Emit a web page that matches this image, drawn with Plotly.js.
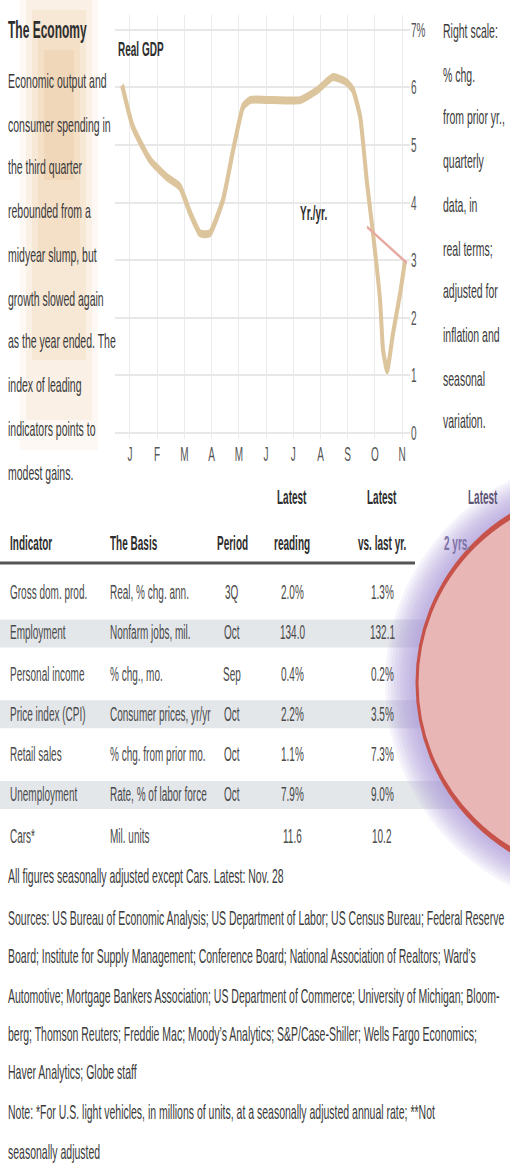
<!DOCTYPE html>
<html>
<head>
<meta charset="utf-8">
<script src="https://cdn.plot.ly/plotly-3.0.1.min.js"></script>
<style>
html,body{margin:0;padding:0;background:#fff;overflow:hidden;}
#wrap{width:510px;height:1167px;overflow:hidden;}
#chart{width:510px;height:584px;transform:scaleY(1.998288);transform-origin:0 0;}
</style>
</head>
<body>
<div id="wrap"><div id="chart"></div></div>
<script>
// ---------------- data ----------------
const xTickVals = [1, 2, 3, 4, 5, 6, 7, 8, 9, 10, 11];
const xTickLabels = ['J', 'F', 'M', 'A', 'M', 'J', 'J', 'A', 'S', 'O', 'N'];
const yTickVals = [0, 1, 2, 3, 4, 5, 6, 7];
const yTickLabels = ['0', '1', '2', '3', '4', '5', '6', '7%'];

const indexX = [0.71, 1.11, 1.74, 2.36, 2.84, 3.21, 3.57, 3.94, 4.42, 4.79, 5.15, 5.41, 6.26, 7.25, 7.88, 8.46, 8.98, 9.20, 9.46, 9.71, 9.93, 10.19, 10.30, 10.45, 10.67, 10.93, 11.11];
const indexY = [6.04, 5.31, 4.74, 4.44, 4.27, 3.82, 3.47, 3.47, 4.05, 4.91, 5.66, 5.78, 5.78, 5.78, 5.95, 6.18, 6.08, 5.95, 5.49, 4.34, 3.47, 2.31, 1.44, 1.09, 1.74, 2.43, 3.00];
const prevX = [9.71, 11.18];
const prevY = [3.58, 2.95];

const seriesLabels = ['Real GDP', 'Yr./yr.'];

const titleText = 'The Economy';
const introLines = ['Economic output and', 'consumer spending in', 'the third quarter', 'rebounded from a', 'midyear slump, but', 'growth slowed again', 'as the year ended. The', 'index of leading', 'indicators points to', 'modest gains.'];
const sideLines = ['Right scale:', '% chg.', 'from prior yr.,', 'quarterly', 'data, in', 'real terms;', 'adjusted for', 'inflation and', 'seasonal', 'variation.'];

const headTop = ['', '', '', 'Latest', 'Latest', 'Latest'];
const headBottom = ['Indicator', 'The Basis', 'Period', 'reading', 'vs. last yr.', '2 yrs.'];
const colIndicator = ['Gross dom. prod.', 'Employment', 'Personal income', 'Price index (CPI)', 'Retail sales', 'Unemployment', 'Cars*'];
const colBasis = ['Real, % chg. ann.', 'Nonfarm jobs, mil.', '% chg., mo.', 'Consumer prices, yr/yr', '% chg. from prior mo.', 'Rate, % of labor force', 'Mil. units'];
const colPeriod = ['3Q', 'Oct', 'Sep', 'Oct', 'Oct', 'Oct', ''];
const colLatest = ['2.0%', '134.0', '0.4%', '2.2%', '1.1%', '7.9%', '11.6'];
const colVsLastYr = ['1.3%', '132.1', '0.2%', '3.5%', '7.3%', '9.0%', '10.2'];

const noteLines = [
  'All figures seasonally adjusted except Cars. Latest: Nov. 28',
  'Sources: US Bureau of Economic Analysis; US Department of Labor; US Census Bureau; Federal Reserve',
  'Board; Institute for Supply Management; Conference Board; National Association of Realtors; Ward\u2019s',
  'Automotive; Mortgage Bankers Association; US Department of Commerce; University of Michigan; Bloom-',
  'berg; Thomson Reuters; Freddie Mac; Moody\u2019s Analytics; S&P/Case-Shiller; Wells Fargo Economics;',
  'Haver Analytics; Globe staff',
  'Note: *For U.S. light vehicles, in millions of units, at a seasonally adjusted annual rate; **Not',
  'seasonally adjusted'
];

// ---------------- layout helpers ----------------
const W = 510, HF = 1167, HL = 584;
const FONT = 'Liberation Sans, Arial, sans-serif';
function px(x) { return x / W; }
function py(y) { return 1 - y / HF; }

const annotations = [];
function addText(text, x, y, opt) {
  opt = opt || {};
  annotations.push({
    xref: 'paper', yref: 'paper', x: px(x), y: py(y), text: text, showarrow: false,
    xanchor: opt.anchor || 'left', yanchor: 'middle', align: opt.anchor || 'left',
    font: { family: FONT, size: opt.size || 10, color: opt.color || '#3a3a3a' }
  });
}

// left column
addText('<b>' + titleText + '</b>', 6, 30, { size: 12, color: '#2e2e2e' });
introLines.forEach((t, i) => addText(t, 6, 80 + 43.4 * i, { size: 10.5 }));
// right column
sideLines.forEach((t, i) => addText(t, 441, 30 + 43.4 * i, { size: 10.5 }));
// chart labels
addText('<b>' + seriesLabels[0] + '</b>', 116, 48, { color: '#2e2e2e' });
addText('<b>' + seriesLabels[1] + '</b>', 298, 213, { color: '#2e2e2e' });

// table
const colX = [8, 108, 232, 292, 382, 442];
const colAnchor = ['left', 'left', 'center', 'center', 'center', 'left'];
headTop.forEach((t, i) => { if (t) addText('<b>' + t + '</b>', i === 5 ? 466 : colX[i], 497, { anchor: colAnchor[i], color: i === 5 ? '#5d5575' : '#2e2e2e' }); });
headBottom.forEach((t, i) => addText('<b>' + t + '</b>', colX[i], 543, { anchor: colAnchor[i], color: i === 5 ? '#7d72a6' : '#2e2e2e' }));
const rowY = [593, 633.4, 673.8, 714.2, 754.6, 795, 835.4];
const cols = [colIndicator, colBasis, colPeriod, colLatest, colVsLastYr];
rowY.forEach((y, r) => {
  cols.forEach((col, c) => { if (col[r]) addText(col[r], colX[c], y, { anchor: colAnchor[c], color: '#4a4a4a' }); });
});

// notes
const noteY = [875, 917, 956, 995, 1034, 1072, 1111, 1152];
noteLines.forEach((t, i) => addText(t, 6, noteY[i], { size: 10.5 }));

// shapes
const shapes = [];
// soft orange band behind intro text
[[20, 98, 0, 450, 0.07], [26, 92, 0, 420, 0.09], [32, 86, 10, 360, 0.1], [38, 80, 30, 260, 0.12], [44, 74, 50, 180, 0.13]].forEach(b => {
  shapes.push({ type: 'rect', xref: 'paper', yref: 'paper', x0: px(b[0]), x1: px(b[1]), y0: py(b[2]), y1: py(b[3]),
    fillcolor: 'rgba(226,162,90,' + b[4] + ')', line: { width: 0 }, layer: 'below' });
});
// table row bands
[1, 3, 5].forEach(r => {
  shapes.push({ type: 'rect', xref: 'paper', yref: 'paper', x0: 0, x1: 1, y0: py(rowY[r] - 14), y1: py(rowY[r] + 14),
    fillcolor: '#e4e7ea', line: { width: 0 }, layer: 'below' });
});
// header rule
shapes.push({ type: 'line', xref: 'paper', yref: 'paper', x0: 0, x1: px(415), y0: py(563), y1: py(563),
  line: { color: '#555', width: 1.5 }, layer: 'below' });
// glow + highlight circle
const cx = 612, cy = 683, rx = 195, ry = 195;
[32, 29, 26, 23, 20, 17, 14, 11, 8, 5, 2].forEach(g => {
  shapes.push({ type: 'circle', xref: 'paper', yref: 'paper', x0: px(cx - rx - g), x1: px(cx + rx + g), y0: py(cy - ry - g), y1: py(cy + ry + g),
    fillcolor: 'rgba(170,148,215,0.1)', line: { width: 0 }, layer: 'above' });
});
shapes.push({ type: 'circle', xref: 'paper', yref: 'paper', x0: px(cx - rx), x1: px(cx + rx), y0: py(cy - ry), y1: py(cy + ry),
  fillcolor: '#e8b6b5', line: { color: '#c6524a', width: 3 }, layer: 'above' });

// ---------------- plot ----------------
const traces = [
  { type: 'scatter', mode: 'lines', x: indexX, y: indexY, line: { color: '#dcc59d', width: 4, shape: 'spline', smoothing: 0.5 }, hoverinfo: 'skip' },
  { type: 'scatter', mode: 'lines', x: prevX, y: prevY, line: { color: '#e7aaa2', width: 1.5 }, hoverinfo: 'skip' }
];

const plotTop = 15.4, plotBottom = 438.8;
const layout = {
  width: W, height: HL,
  margin: { l: 0, r: 0, t: 0, b: 0 },
  paper_bgcolor: '#ffffff', plot_bgcolor: 'rgba(0,0,0,0)',
  showlegend: false,
  xaxis: {
    domain: [px(115), px(410)], range: [0.45, 11.29],
    tickvals: xTickVals, ticktext: xTickLabels,
    showgrid: true, gridcolor: '#ebebeb', gridwidth: 1, zeroline: false, showline: false, ticks: '',
    tickfont: { family: FONT, size: 10, color: '#555' }, fixedrange: true
  },
  yaxis: {
    domain: [py(plotBottom), py(plotTop)], range: [-0.1, 7.25], side: 'right',
    tickvals: yTickVals, ticktext: yTickLabels,
    showgrid: true, gridcolor: '#e8e8e8', gridwidth: 1, zeroline: false, showline: false, ticks: '',
    tickfont: { family: FONT, size: 10, color: '#555' }, fixedrange: true
  },
  annotations: annotations,
  shapes: shapes
};

Plotly.newPlot('chart', traces, layout, { staticPlot: true, displayModeBar: false });
</script>
</body>
</html>
